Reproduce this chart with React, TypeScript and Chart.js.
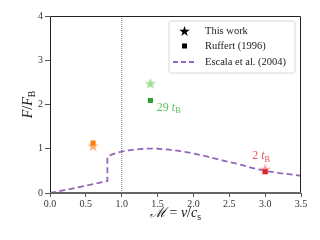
import React, { useEffect, useRef } from "react";
import { Chart, registerables } from "chart.js";
Chart.register(...registerables);

// Escala et al. (2004) curve
const escalaMach = [0, 0.2, 0.4, 0.6, 0.8, 0.8, 0.85, 0.9, 0.95, 1.0, 1.1, 1.2, 1.3, 1.4, 1.5, 1.6, 1.7, 1.8, 1.9, 2.0, 2.2, 2.4, 2.6, 2.8, 3.0, 3.2, 3.4, 3.5];
const escalaForce = [0, 0.065, 0.13, 0.2, 0.27, 0.82, 0.86, 0.89, 0.915, 0.935, 0.965, 0.985, 1.0, 1.005, 1.0, 0.99, 0.975, 0.95, 0.925, 0.895, 0.82, 0.74, 0.665, 0.575, 0.5, 0.45, 0.41, 0.39];

// This work (stars)
const thisWorkMach = [0.6, 1.4, 3.0];
const thisWorkForce = [1.07, 2.48, 0.54];
const thisWorkColors = ["#ffb070", "#9ee08f", "#ff9896"];

// Ruffert (1996) (squares)
const ruffertMach = [0.6, 1.4, 3.0];
const ruffertForce = [1.13, 2.09, 0.48];
const ruffertColors = ["#ff7f0e", "#2ca02c", "#d62728"];

// annotations
const noteMach = [1.49, 2.82];
const noteForce = [1.95, 0.86];
const noteNumber = ["29", "2"];
const noteColors = ["#5cbf5c", "#e8545c"];

// axes
const xTicks = [0, 0.5, 1.0, 1.5, 2.0, 2.5, 3.0, 3.5];
const yTicks = [0, 1, 2, 3, 4];
const soundSpeedMach = [1.0, 1.0];
const soundSpeedForce = [0, 4];

const legendLabels = ["This work", "Ruffert (1996)", "Escala et al. (2004)"];

const FONT = '"Liberation Serif", "DejaVu Serif", serif';

function drawStar(ctx: CanvasRenderingContext2D, cx: number, cy: number, R: number, color: string) {
  const r = R * 0.382;
  ctx.beginPath();
  for (let i = 0; i < 10; i++) {
    const a = -Math.PI / 2 + (i * Math.PI) / 5;
    const rad = i % 2 === 0 ? R : r;
    const px = cx + rad * Math.cos(a);
    const py = cy + rad * Math.sin(a);
    if (i === 0) ctx.moveTo(px, py);
    else ctx.lineTo(px, py);
  }
  ctx.closePath();
  ctx.fillStyle = color;
  ctx.fill();
}

function starCanvas(color: string, R: number) {
  const s = Math.ceil(R * 2 + 2);
  const c = document.createElement("canvas");
  c.width = s;
  c.height = s;
  const ctx = c.getContext("2d")!;
  drawStar(ctx, s / 2, s / 2 + 0.6, R, color);
  return c;
}

type Part = { t: string; italic?: boolean; sub?: boolean };

function measureParts(ctx: CanvasRenderingContext2D, parts: Part[], size: number) {
  let w = 0;
  for (const p of parts) {
    const fs = p.sub ? size * 0.7 : size;
    ctx.font = `${p.italic ? "italic " : ""}${fs}px ${FONT}`;
    w += ctx.measureText(p.t).width;
  }
  return w;
}

function drawParts(ctx: CanvasRenderingContext2D, parts: Part[], x: number, y: number, size: number, color: string) {
  ctx.fillStyle = color;
  ctx.textBaseline = "alphabetic";
  ctx.textAlign = "left";
  let cx = x;
  for (const p of parts) {
    const fs = p.sub ? size * 0.7 : size;
    ctx.font = `${p.italic ? "italic " : ""}${fs}px ${FONT}`;
    ctx.fillText(p.t, cx, p.sub ? y + size * 0.22 : y);
    cx += ctx.measureText(p.t).width;
  }
}

const decorPlugin = {
  id: "decor",
  afterDatasetsDraw(chart: any) {
    const { ctx, chartArea: a, scales } = chart;
    ctx.save();
    // frame
    ctx.strokeStyle = "#222";
    ctx.lineWidth = 1;
    ctx.beginPath();
    ctx.moveTo(a.left + 0.5, a.bottom);
    ctx.lineTo(a.left + 0.5, a.top + 0.5);
    ctx.lineTo(a.right - 0.5, a.top + 0.5);
    ctx.lineTo(a.right - 0.5, a.bottom);
    ctx.stroke();
    ctx.strokeStyle = "#666";
    ctx.lineWidth = 2;
    ctx.beginPath();
    ctx.moveTo(a.left, a.bottom);
    ctx.lineTo(a.right, a.bottom);
    ctx.stroke();

    // annotations
    for (let i = 0; i < noteMach.length; i++) {
      const px = scales.x.getPixelForValue(noteMach[i]);
      const py = scales.y.getPixelForValue(noteForce[i]);
      drawParts(
        ctx,
        [{ t: noteNumber[i] + " " }, { t: "t", italic: true }, { t: "B", sub: true }],
        px,
        py + 4,
        12,
        noteColors[i]
      );
    }

    // legend
    const lx = 169, ly = 21, lw = 126, lh = 52;
    ctx.beginPath();
    const rr = 2;
    ctx.moveTo(lx + rr, ly);
    ctx.arcTo(lx + lw, ly, lx + lw, ly + lh, rr);
    ctx.arcTo(lx + lw, ly + lh, lx, ly + lh, rr);
    ctx.arcTo(lx, ly + lh, lx, ly, rr);
    ctx.arcTo(lx, ly, lx + lw, ly, rr);
    ctx.closePath();
    ctx.fillStyle = "rgba(255,255,255,0.85)";
    ctx.fill();
    ctx.strokeStyle = "#d8d8d8";
    ctx.lineWidth = 1;
    ctx.stroke();
    const rows = [31, 46, 62];
    drawStar(ctx, 184.5, rows[0] + 0.5, 5.5, "#000");
    ctx.fillStyle = "#000";
    ctx.fillRect(182, rows[1] - 2.5, 5, 5);
    ctx.strokeStyle = "#9467bd";
    ctx.lineWidth = 1.8;
    ctx.setLineDash([5, 3]);
    ctx.beginPath();
    ctx.moveTo(173, rows[2]);
    ctx.lineTo(197, rows[2]);
    ctx.stroke();
    ctx.setLineDash([]);
    ctx.fillStyle = "#222";
    ctx.font = `10.5px ${FONT}`;
    ctx.textBaseline = "middle";
    ctx.textAlign = "left";
    legendLabels.forEach((l, i) => ctx.fillText(l, 205, rows[i]));

    // x title
    const xParts: Part[] = [
      { t: "ℳ", italic: true },
      { t: " = " },
      { t: "v", italic: true },
      { t: "/" },
      { t: "c", italic: true },
      { t: "s", sub: true },
    ];
    const xw = measureParts(ctx, xParts, 14);
    drawParts(ctx, xParts, (a.left + a.right) / 2 - xw / 2, 217, 14, "#111");

    // y title
    const yParts: Part[] = [
      { t: "F", italic: true },
      { t: "/" },
      { t: "F", italic: true },
      { t: "B", sub: true },
    ];
    const yw = measureParts(ctx, yParts, 14);
    ctx.translate(32, (a.top + a.bottom) / 2);
    ctx.rotate(-Math.PI / 2);
    drawParts(ctx, yParts, -yw / 2, 0, 14, "#222");
    ctx.restore();
  },
};

export default function App() {
  const ref = useRef<HTMLCanvasElement>(null);
  useEffect(() => {
    const stars = thisWorkColors.map((c) => starCanvas(c, 6));
    const chart = new Chart(ref.current!, {
      type: "scatter",
      data: {
        datasets: [
          {
            label: "Ruffert (1996)",
            data: ruffertMach.map((x, i) => ({ x, y: ruffertForce[i] })),
            pointStyle: "rect",
            pointRadius: 3.6,
            pointBackgroundColor: ruffertColors,
            pointBorderWidth: 0,
            order: 0,
          },
          {
            label: "This work",
            data: thisWorkMach.map((x, i) => ({ x, y: thisWorkForce[i] })),
            pointStyle: stars as any,
            pointRadius: 6,
            order: 1,
          },
          {
            label: "Escala et al. (2004)",
            data: escalaMach.map((x, i) => ({ x, y: escalaForce[i] })),
            showLine: true,
            borderColor: "#9467bd",
            borderWidth: 1.8,
            borderDash: [6, 3.5],
            pointRadius: 0,
            tension: 0,
            order: 2,
          } as any,
          {
            label: "sound speed",
            data: soundSpeedMach.map((x, i) => ({ x, y: soundSpeedForce[i] })),
            showLine: true,
            borderColor: "#777",
            borderWidth: 1,
            borderDash: [1, 1],
            pointRadius: 0,
            order: 3,
          },
        ],
      },
      options: {
        animation: false,
        responsive: false,
        layout: { padding: { left: 0, top: 16, right: 19, bottom: 0 } },
        plugins: { legend: { display: false }, tooltip: { enabled: false } },
        scales: {
          x: {
            type: "linear",
            min: 0,
            max: 3.5,
            afterFit: (s: any) => {
              s.height = 47;
            },
            afterBuildTicks: (s: any) => {
              s.ticks = xTicks.map((v) => ({ value: v }));
            },
            ticks: {
              padding: 1,
              color: "#333",
              font: { family: FONT, size: 10 },
              callback: (v: any) => Number(v).toFixed(1),
            },
            grid: { display: true, drawOnChartArea: false, drawTicks: true, tickLength: 4, color: "#555" },
            border: { display: false },
          },
          y: {
            type: "linear",
            min: 0,
            max: 4,
            afterFit: (s: any) => {
              s.width = 50;
            },
            afterBuildTicks: (s: any) => {
              s.ticks = yTicks.map((v) => ({ value: v }));
            },
            ticks: {
              padding: 2,
              color: "#333",
              font: { family: FONT, size: 10 },
              callback: (v: any) => String(v),
            },
            grid: { display: true, drawOnChartArea: false, drawTicks: true, tickLength: 5, color: "#555" },
            border: { display: false },
          },
        },
      },
      plugins: [decorPlugin],
    });
    return () => chart.destroy();
  }, []);
  return (
    <div style={{ position: "absolute", left: 0, top: 0, width: 320, height: 240, background: "#fff" }}>
      <canvas ref={ref} width={320} height={240} style={{ display: "block" }} />
    </div>
  );
}
